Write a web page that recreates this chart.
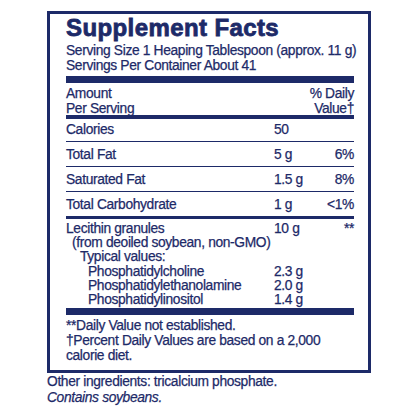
<!DOCTYPE html>
<html><head><meta charset="utf-8">
<script src="https://cdn.jsdelivr.net/npm/chart.js@4"></script>
<style>
body{margin:0;width:416px;height:416px;background:#fff;font-family:"Liberation Sans",Arial,sans-serif;color:#1d2a68;position:relative;overflow:hidden}
.t{position:absolute;font-size:13.8px;line-height:15px;white-space:nowrap;letter-spacing:-0.35px;-webkit-text-stroke:0.25px #1d2a68}
.bar{position:absolute;left:66px;width:288px;background:#1d2a68}
#box{position:absolute;left:47px;top:11px;width:318px;height:356px;border:3px solid #1d2a68}
</style></head><body>
<div id="box"></div>
<div id="lab"></div>
<script>
const headerLines = ["Serving Size 1 Heaping Tablespoon (approx. 11 g)", "Servings Per Container About 41"];
const nutrients = ["Calories", "Total Fat", "Saturated Fat", "Total Carbohydrate"];
const amounts = ["50", "5 g", "1.5 g", "1 g"];
const dailyValues = ["", "6%", "8%", "<1%"];
const rowY = [122, 147, 172, 197];
const subNames = ["Phosphatidylcholine", "Phosphatidylethanolamine", "Phosphatidylinositol"];
const subAmounts = ["2.3 g", "2.0 g", "1.4 g"];
const footnotes = ["**Daily Value not established.", "\u2020Percent Daily Values are based on a 2,000", "calorie diet."];

const lab = document.getElementById('lab');
function txt(s, x, y, opt = {}) {
  const d = document.createElement('div');
  d.className = 't';
  d.textContent = s;
  d.style.top = y + 'px';
  if (opt.right) { d.style.right = (416 - x) + 'px'; } else d.style.left = x + 'px';
  if (opt.css) Object.assign(d.style, opt.css);
  lab.appendChild(d);
}
function bar(y, h) {
  const d = document.createElement('div');
  d.className = 'bar'; d.style.top = y + 'px'; d.style.height = h + 'px';
  lab.appendChild(d);
}
txt("Supplement Facts", 66, 14, {css: {fontSize: '24px', lineHeight: '27px', fontWeight: '900', letterSpacing: '0.4px', webkitTextStroke: '0.8px #1d2a68'}});
headerLines.forEach((s, i) => txt(s, 66, 43 + i * 15));
bar(76, 7);
txt("Amount", 66, 86); txt("Per Serving", 66, 101);
txt("% Daily", 354, 86, {right: true});
txt("Value\u2020", 354, 101, {right: true});
bar(115, 4);
nutrients.forEach((n, i) => {
  txt(n, 66, rowY[i]);
  txt(amounts[i], 274, rowY[i]);
  if (dailyValues[i]) txt(dailyValues[i], 354, rowY[i], {right: true});
  bar(rowY[i] + 19, i === 3 ? 3 : 1);
});
txt("Lecithin granules", 66, 221); txt("10 g", 274, 221); txt("**", 354, 221, {right: true});
txt("(from deoiled soybean, non-GMO)", 72, 235);
txt("Typical values:", 80, 249);
subNames.forEach((s, i) => { txt(s, 88, 264 + i * 14); txt(subAmounts[i], 274, 264 + i * 14); });
bar(308, 7);
footnotes.forEach((s, i) => txt(s, 66, 318 + i * 15));
txt("Other ingredients: tricalcium phosphate.", 47, 374);
txt("Contains soybeans.", 47, 390, {css: {fontStyle: 'italic'}});
</script>
</body></html>
